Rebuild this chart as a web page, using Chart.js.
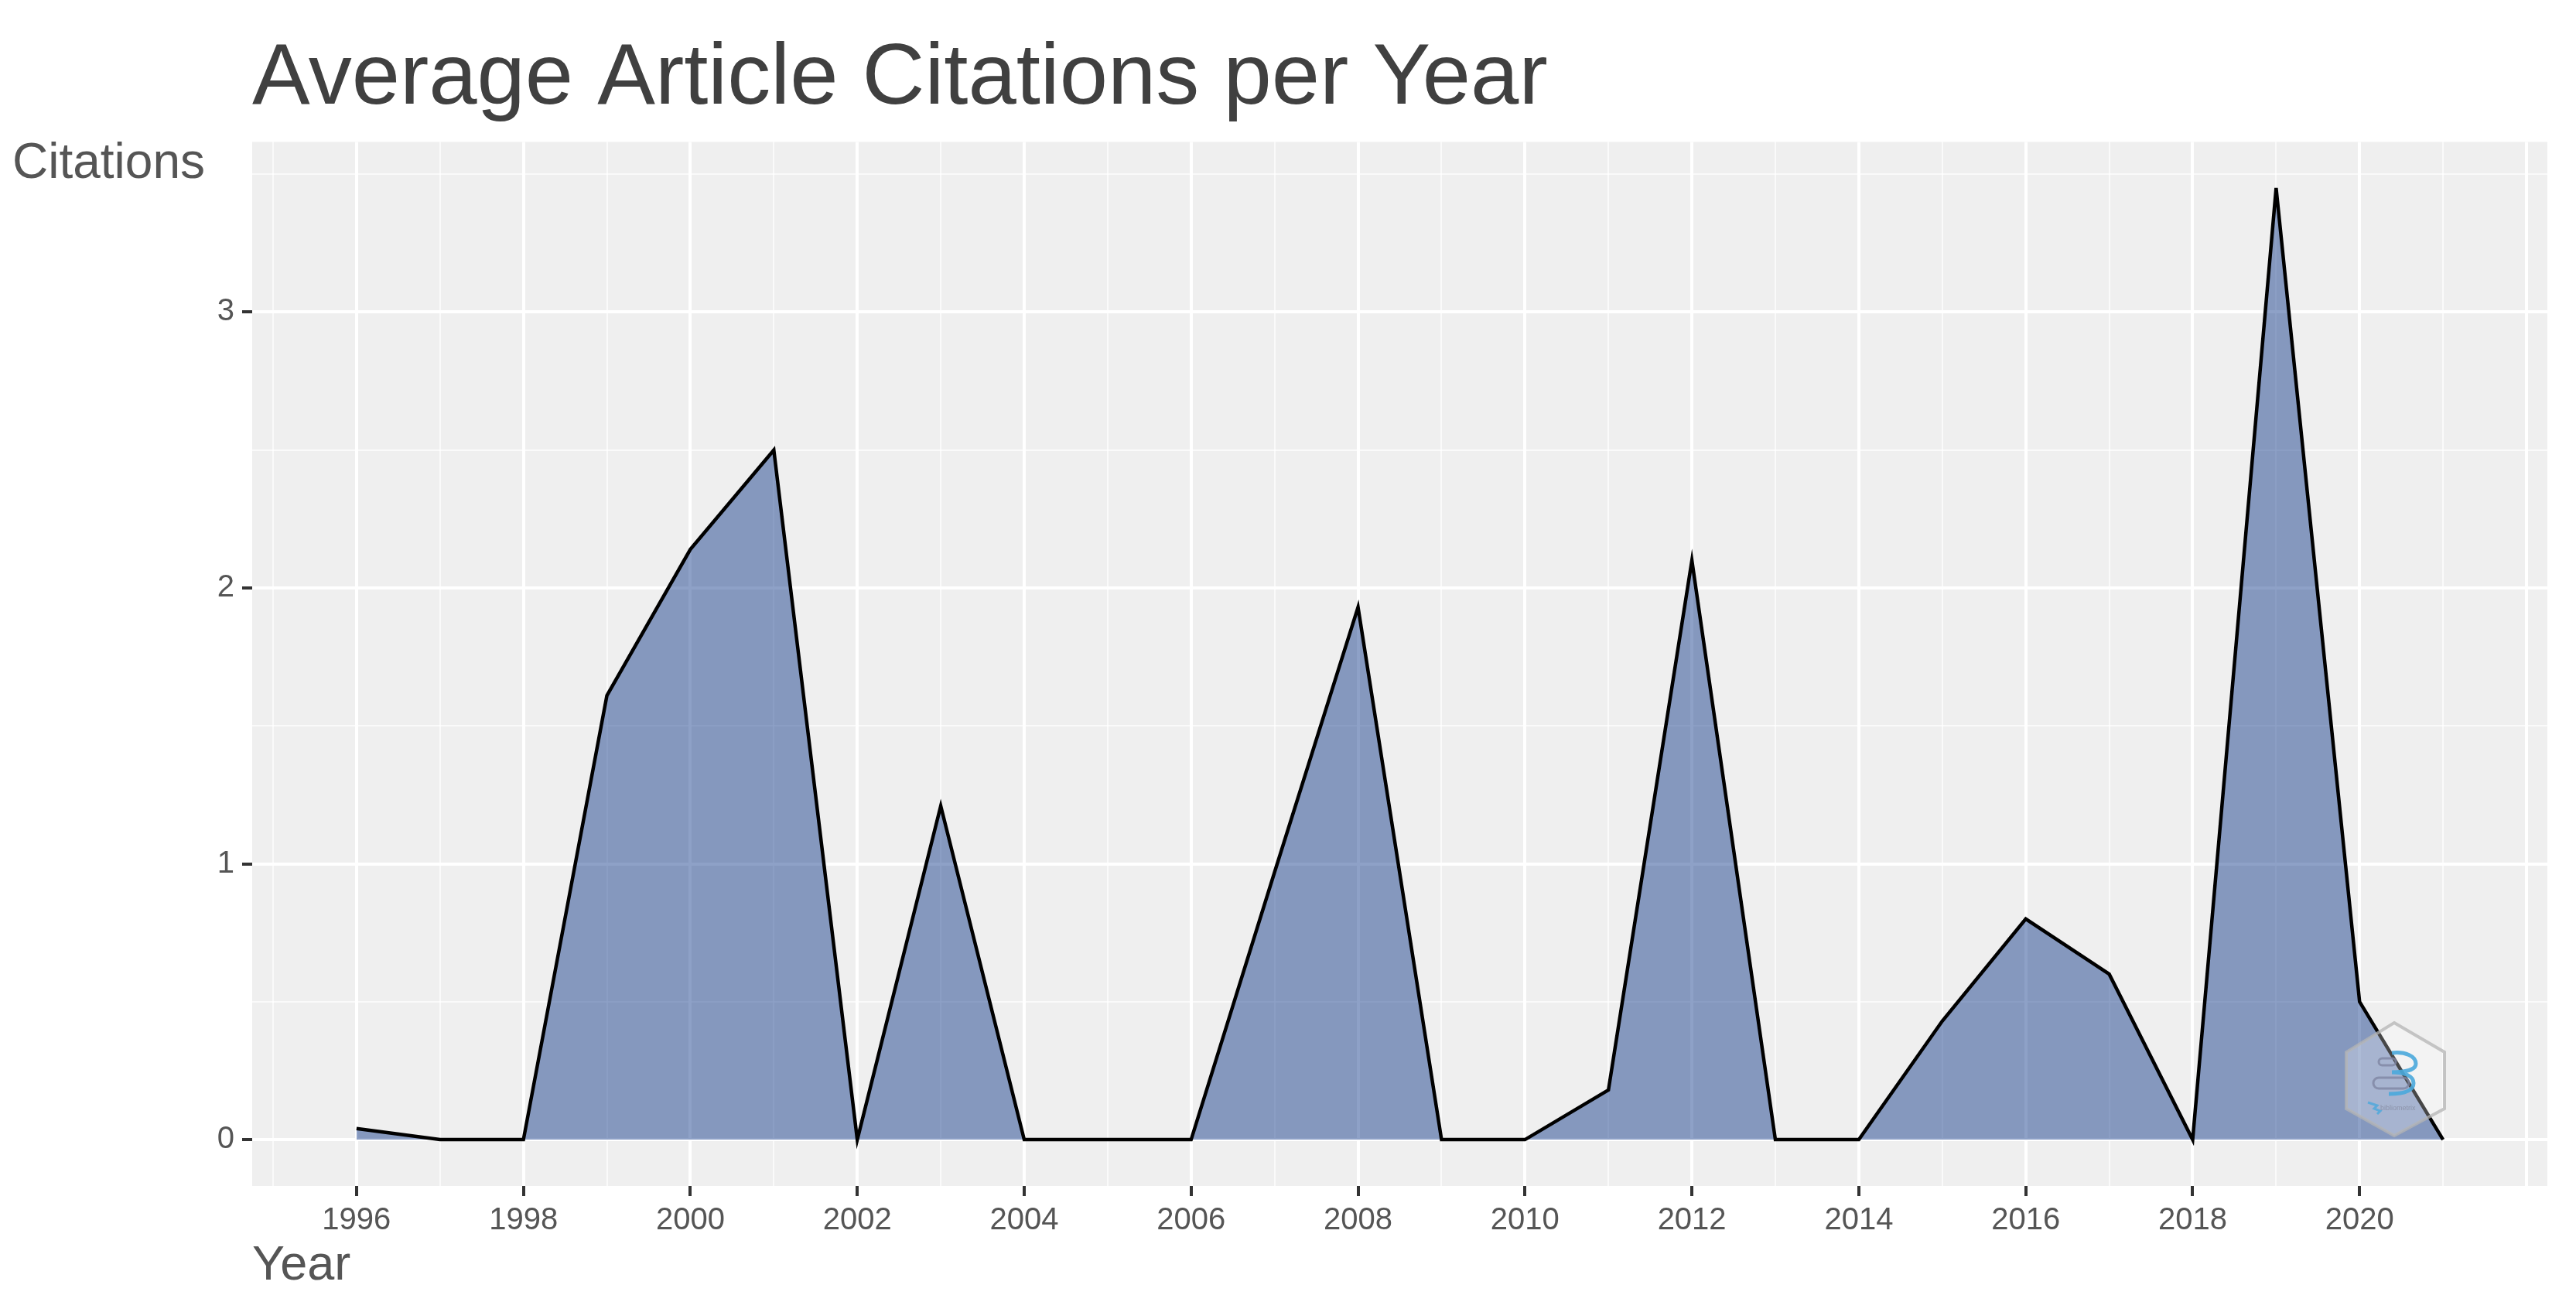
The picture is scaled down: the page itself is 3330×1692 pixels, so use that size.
<!DOCTYPE html>
<html>
<head>
<meta charset="utf-8">
<title>Average Article Citations per Year</title>
<script src="https://cdn.jsdelivr.net/npm/chart.js@4"></script>
<style>
  html, body { margin: 0; padding: 0; background: #fff; }
  #wrap { position: relative; width: 3330px; height: 1692px; overflow: hidden; }
  #logo { position: absolute; left: 3025px; top: 1315px; }
</style>
</head>
<body>
<div id="wrap">
  <canvas id="line-chart" width="3330" height="1692"></canvas>
  <svg id="logo" width="150" height="160" viewBox="0 0 150 160">
    <polygon points="70,7 135,45 135,118 70,153 8,118 8,45" fill="rgba(255,255,255,0.28)" stroke="#b4b4b4" stroke-opacity="0.75" stroke-width="4"/>
    <path d="M67,46 C84,44 98,50 98,60 C98,68 84,71 67,71 C84,71 95,76 95,85 C95,95 82,99 63,99" fill="none" stroke="#4aa8dc" stroke-opacity="0.9" stroke-width="5"/>
    <rect x="50" y="53" width="22" height="9" rx="4.5" fill="none" stroke="#7f86a3" stroke-opacity="0.8" stroke-width="3"/>
    <rect x="43" y="78" width="46" height="14" rx="7" fill="none" stroke="#7f86a3" stroke-opacity="0.8" stroke-width="3"/>
    <path d="M36,110 L48,114 L44,118 L52,121 L48,125" fill="none" stroke="#4aa8dc" stroke-opacity="0.8" stroke-width="3"/>
    <text x="52" y="120" font-family="Liberation Sans" font-size="9" fill="#8d93aa">bibliometrix</text>
  </svg>
</div>
<script>
const years = [1996,1997,1998,1999,2000,2001,2002,2003,2004,2005,2006,2007,2008,2009,2010,2011,2012,2013,2014,2015,2016,2017,2018,2019,2020,2021];
const citations = [0.04,0,0,1.61,2.14,2.5,0,1.21,0,0,0,0.97,1.93,0,0,0.18,2.1,0,0,0.43,0.8,0.6,0,3.45,0.5,0];
const xGrid = [1995,1996,1997,1998,1999,2000,2001,2002,2003,2004,2005,2006,2007,2008,2009,2010,2011,2012,2013,2014,2015,2016,2017,2018,2019,2020,2021,2022];
const yGrid = [0,0.5,1,1.5,2,2.5,3,3.5];

const fontName = '"Liberation Sans", Arial, sans-serif';
const isLabelledYear = v => v % 2 === 0 && v >= 1996 && v <= 2020;

new Chart(document.getElementById("line-chart"), {
  type: 'line',
  data: {
    labels: years,
    datasets: [{
      data: years.map((y, i) => ({ x: y, y: citations[i] })),
      label: "Citations",
      borderColor: "#000000",
      backgroundColor: "rgba(4,47,131,0.45)",
      borderWidth: 4.5,
      pointRadius: 0,
      tension: 0,
      fill: 'origin'
    }]
  },
  options: {
    responsive: false,
    devicePixelRatio: 1,
    animation: false,
    layout: { padding: { left: 0, right: 37, top: 0, bottom: 0 } },
    plugins: {
      legend: { display: false },
      tooltip: { enabled: false },
      title: {
        display: true,
        text: 'Average Article Citations per Year',
        align: 'start',
        fullSize: false,
        color: '#404040',
        font: { family: fontName, size: 112, weight: 'normal', lineHeight: 1.2 },
        padding: { top: 36, bottom: 13 }
      }
    },
    scales: {
      x: {
        type: 'linear',
        min: 1994.75,
        max: 2022.25,
        afterBuildTicks: axis => { axis.ticks = xGrid.map(v => ({ value: v })); },
        afterFit: axis => { axis.height = 159; },
        border: { display: false },
        grid: {
          color: c => (c.tick.value % 2 === 0 ? '#FFFFFF' : 'rgba(255,255,255,0.7)'),
          lineWidth: c => (c.tick.value % 2 === 0 ? 4 : 2),
          tickColor: c => (isLabelledYear(c.tick.value) ? '#333333' : 'rgba(0,0,0,0)'),
          tickWidth: 4,
          tickLength: 13
        },
        ticks: {
          autoSkip: false,
          maxRotation: 0,
          color: '#555555',
          padding: 8,
          font: { family: fontName, size: 40 },
          callback: v => (isLabelledYear(v) ? String(v) : '')
        },
        title: {
          display: true,
          text: 'Year',
          align: 'start',
          color: '#555555',
          font: { family: fontName, size: 63 },
          padding: { top: 0, bottom: 18 }
        }
      },
      y: {
        min: -0.168,
        max: 3.617,
        afterBuildTicks: axis => { axis.ticks = yGrid.map(v => ({ value: v })); },
        afterFit: axis => { axis.width = 326; },
        border: { display: false },
        grid: {
          color: c => (c.tick.value % 1 === 0 ? '#FFFFFF' : 'rgba(255,255,255,0.7)'),
          lineWidth: c => (c.tick.value % 1 === 0 ? 4 : 2),
          tickColor: c => (c.tick.value % 1 === 0 ? '#333333' : 'rgba(0,0,0,0)'),
          tickWidth: 4,
          tickLength: 13
        },
        ticks: {
          autoSkip: false,
          color: '#555555',
          padding: 10,
          font: { family: fontName, size: 40 },
          callback: v => (v % 1 === 0 ? String(v) : '')
        }
      }
    }
  },
  plugins: [{
    // grey ggplot panel behind the grid, and the flat y label the scale title can't do
    id: 'panelAndLabel',
    beforeDraw(chart) {
      const a = chart.chartArea;
      chart.ctx.save();
      chart.ctx.fillStyle = '#EFEFEF';
      chart.ctx.fillRect(a.left, a.top, a.right - a.left, a.bottom - a.top);
      chart.ctx.restore();
    },
    afterDraw(chart) {
      const ctx = chart.ctx;
      ctx.save();
      ctx.font = '64px ' + fontName;
      ctx.fillStyle = '#555555';
      ctx.textAlign = 'left';
      ctx.textBaseline = 'alphabetic';
      ctx.fillText('Citations', 16, 230);
      ctx.restore();
    }
  }]
});
</script>
</body>
</html>
